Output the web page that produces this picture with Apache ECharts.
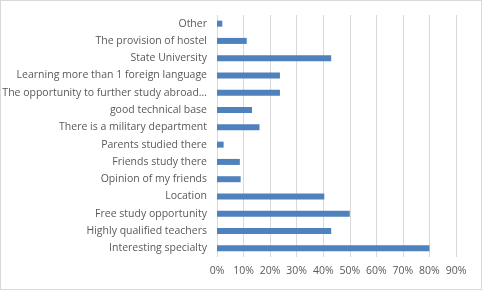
<!DOCTYPE html>
<html>
<head>
<meta charset="utf-8">
<script src="https://cdn.jsdelivr.net/npm/echarts@6/dist/echarts.min.js"></script>
<style>
  html, body { margin: 0; padding: 0; background: #fff; }
  #chart { width: 480px; height: 288px; border: 1px solid #d9d9d9; }
</style>
</head>
<body>
<div id="chart"></div>
<script>
// categories listed bottom to top
const categories = [
  'Interesting specialty',
  'Highly qualified teachers',
  'Free study opportunity',
  'Location',
  'Opinion of my friends',
  'Friends study there',
  'Parents studied there',
  'There is a military department',
  'good technical base',
  'The opportunity to further study abroad…',
  'Learning more than 1 foreign language',
  'State University',
  'The provision of hostel',
  'Other',
];
const shares = [80, 43, 50, 40.4, 8.9, 8.6, 2.5, 16, 13.2, 23.7, 23.7, 43, 11.2, 2];

const chart = echarts.init(document.getElementById('chart'));

const textColor = '#595959';
const gridColor = '#d9d9d9';

chart.setOption({
  animation: false,
  grid: { left: 216, right: 25, top: 14, bottom: 32, outerBoundsMode: 'none', containLabel: false },
  xAxis: {
    type: 'value',
    min: 0,
    max: 90,
    interval: 10,
    axisLine: { show: false },
    axisTick: { show: false },
    axisLabel: {
      color: textColor,
      fontFamily: 'Open Sans',
      fontSize: 10.5,
      margin: 9,
      formatter: (v) => v + '%',
    },
    splitLine: { lineStyle: { color: gridColor, width: 1 } },
  },
  yAxis: {
    type: 'category',
    data: categories,
    axisLine: { show: false },
    axisTick: { show: false },
    axisLabel: {
      color: textColor,
      fontFamily: 'Open Sans',
      fontSize: 10.5,
      margin: 10,
    },
  },
  series: [
    {
      type: 'bar',
      data: shares,
      barWidth: 6,
      itemStyle: { color: '#4f81bd' },
    },
  ],
});
</script>
</body>
</html>
